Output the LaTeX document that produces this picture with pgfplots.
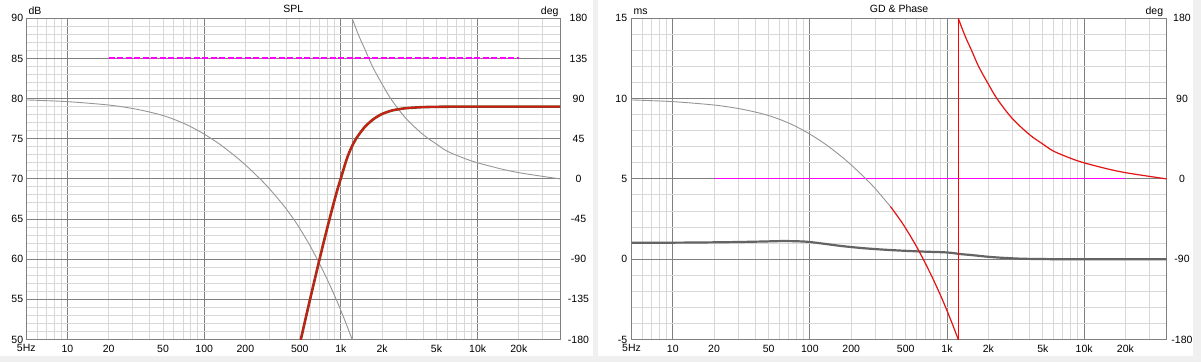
\documentclass[border=0pt]{standalone}
\usepackage{fontspec}
\setmainfont{Liberation Sans}
\usepackage{pgfplots}
\usepackage{pgfplotstable}
\pgfplotsset{compat=1.18}
\definecolor{bggray}{RGB}{240,240,240}
\definecolor{majgray}{RGB}{128,128,128}
\definecolor{mingray}{RGB}{216,216,216}
\definecolor{phgray}{RGB}{150,150,150}
\definecolor{gdgray}{RGB}{100,100,100}
\definecolor{splred}{RGB}{215,25,20}
\definecolor{splbrown}{RGB}{120,70,30}
\definecolor{phred}{RGB}{228,18,18}
\definecolor{mag}{RGB}{255,0,255}

% SPL (dB)
\pgfplotstableread{
f db
490 48.8
520 50.7
560 53.1
600 55.3
650 57.8
700 60.1
750 62.2
800 64.1
870 66.5
940 68.6
1000 70.1
1080 72.0
1150 73.3
1250 74.6
1350 75.5
1500 76.5
1700 77.35
1800 77.65
2000 78.09
2200 78.35
2400 78.55
2700 78.7
3000 78.81
4000 78.94
6000 78.99
10000 79.0
40000 79.0
}\spl

% phase (deg), low part
\pgfplotstableread{
f deg
5 88.5
10 86.6
20 82.8
30 78.9
40 74.9
50 71.0
60 66.8
70 62.6
80 58.4
100 50.2
130 38.8
170 25.0
200 15.7
250 1.6
300 -11.0
386 -30.8
}\phlo

\pgfplotstableread{
f deg
386 -30.8
450 -44.9
500 -55.5
588 -73.6
675 -90.8
750 -104.8
800 -113.8
900 -131.1
1000 -147.7
1100 -163.6
1208 -180
}\phhi

\pgfplotstableread{
f deg
1208 180
1300 167
1400 155
1500 145
1700 126
1956 109
2312 90
2979 68
4000 49.5
5000 39
6000 31
8000 23
10000 18
15000 11
20000 7
30000 2.8
40000 0
}\phwrap

% group delay (ms)
\pgfplotstableread{
f ms
5 1.03
10 1.03
15 1.04
20 1.05
30 1.07
45 1.10
64 1.13
85 1.11
100 1.07
130 0.95
170 0.82
250 0.68
386 0.57
640 0.48
1000 0.42
1250 0.32
1500 0.26
1750 0.20
2000 0.15
2500 0.09
3500 0.03
5000 0.01
7000 0
40000 0
}\gd

\pgfplotsset{
  myBase/.style={scale only axis, width=533.7pt, height=321.2pt, anchor=south west,
    xmin=5, xmax=40000,
    major tick length=0pt, minor tick length=0pt,
    tick label style={font=\fontsize{10.5}{12}\selectfont, text=black},
  },
  myGrid/.style={myBase, grid=both,
    major grid style={draw=majgray, line width=1pt},
    minor grid style={draw=mingray, line width=1pt},
    axis line style={draw=majgray, line width=1pt},
    xtick={10,100,1000,10000}, xticklabels={10,100,1k,10k},
    extra x ticks={5,20,50,200,500,2000,5000,20000},
    extra x tick labels={5Hz,20,50,200,500,2k,5k,20k},
    extra x tick style={grid=none},
    minor xtick={6,7,8,9,20,30,40,50,60,70,80,90,200,300,400,500,600,700,800,900,2000,3000,4000,5000,6000,7000,8000,9000,20000,30000},
    xticklabel style={anchor=north, inner sep=0pt, yshift=-5pt},
  },
  myDeg/.style={myBase, axis x line=none, axis y line*=right, axis line style={draw=none},
    ymin=-180, ymax=180},
  myHid/.style={myBase, hide axis},
}

\begin{document}
\begin{tikzpicture}
\useasboundingbox (0,0) rectangle (1201pt,362pt);
\fill[bggray] (0,0) rectangle (1201pt,362pt);
\fill[white] (0,6pt) rectangle (593.3pt,362pt);
\fill[white] (598.3pt,6pt) rectangle (1193pt,362pt);

% ---------------- left panel: SPL ----------------
\begin{semilogxaxis}[myGrid, at={(26.3pt,22.5pt)},
  ymin=50, ymax=90, ytick={50,55,...,90},
  yticklabels={50,55,60,65,70,75,80,85,90},
  minor ytick={50,51,...,90},
  yticklabel style={anchor=east, inner sep=0pt, xshift=-3pt}]
\addplot[draw=none, forget plot] coordinates {(10,60)};
\end{semilogxaxis}

\begin{semilogxaxis}[myDeg, at={(26.3pt,22.5pt)},
  ytick={-180,-135,...,180},
  yticklabels={-180,-135,-90,-45,0,45,90,135,180},
  yticklabel style={anchor=center, inner sep=0pt, xshift=18.5pt}]
\addplot[phgray, line width=0.9pt, smooth] table[x=f, y=deg] {\phlo};
\addplot[phgray, line width=0.9pt, smooth] table[x=f, y=deg] {\phhi};
\addplot[phgray, line width=0.9pt] coordinates {(1208,-180) (1208,180)};
\addplot[phgray, line width=0.9pt, smooth] table[x=f, y=deg] {\phwrap};
\end{semilogxaxis}

\begin{semilogxaxis}[myHid, at={(26.3pt,22.5pt)}, ymin=50, ymax=90]
\addplot[mag, line width=2pt, dash pattern=on 6pt off 2.5pt] coordinates {(20,85) (20000,85)};
\addplot[splbrown, line width=2.6pt, smooth] table[x=f, y=db] {\spl};
\addplot[splred, line width=1.5pt, smooth] table[x=f, y=db] {\spl};
\end{semilogxaxis}

% ---------------- right panel: GD & Phase ----------------
\begin{semilogxaxis}[myGrid, at={(631.5pt,22.5pt)}, width=535.2pt,
  ymin=-5, ymax=15, ytick={-5,0,5,10,15},
  yticklabels={-5,0,5,10,15},
  minor ytick={-5,-4,...,15},
  yticklabel style={anchor=east, inner sep=0pt, xshift=-4.2pt}]
\addplot[draw=none, forget plot] coordinates {(10,0)};
\end{semilogxaxis}

\begin{semilogxaxis}[myHid, at={(631.5pt,22.5pt)}, width=535.2pt, ymin=-5, ymax=15]
\addplot[mag, line width=1pt] coordinates {(20,5) (20000,5)};
\addplot[gdgray, line width=2.2pt, smooth] table[x=f, y=ms] {\gd};
\end{semilogxaxis}

\begin{semilogxaxis}[myDeg, at={(631.5pt,22.5pt)}, width=535.2pt,
  ytick={-180,-90,0,90,180},
  yticklabels={-180,-90,0,90,180},
  yticklabel style={anchor=center, inner sep=0pt, xshift=15.3pt}]
\addplot[phgray, line width=0.9pt, smooth] table[x=f, y=deg] {\phlo};
\addplot[phred, line width=1.2pt, smooth] table[x=f, y=deg] {\phhi};
\addplot[red, line width=1.2pt] coordinates {(1208,-180) (1208,180)};
\addplot[phred, line width=1.2pt, smooth] table[x=f, y=deg] {\phwrap};
\end{semilogxaxis}

% texts
\node[anchor=base west, inner sep=0pt, font=\fontsize{10.5}{12}\selectfont] at (28.3pt,347pt) {dB};
\node[anchor=base east, inner sep=0pt, font=\fontsize{10.5}{12}\selectfont] at (558.7pt,347pt) {deg};
\node[anchor=base west, inner sep=0pt, font=\fontsize{10.5}{12}\selectfont] at (633.3pt,347pt) {ms};
\node[anchor=base east, inner sep=0pt, font=\fontsize{10.5}{12}\selectfont] at (1163.3pt,347pt) {deg};
\node[anchor=base, inner sep=0pt, font=\fontsize{10.5}{12}\selectfont] at (293.2pt,349.7pt) {SPL};
\node[anchor=base, inner sep=0pt, font=\fontsize{10.5}{12}\selectfont] at (899.1pt,349.7pt) {GD \& Phase};
\end{tikzpicture}
\end{document}
